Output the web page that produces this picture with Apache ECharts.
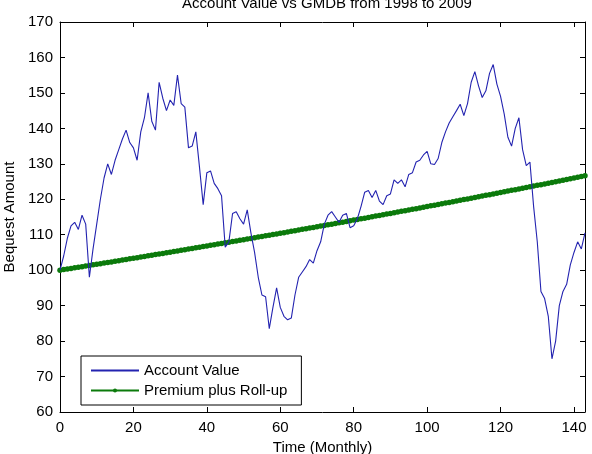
<!DOCTYPE html>
<html>
<head>
<meta charset="utf-8">
<script src="https://cdn.jsdelivr.net/npm/echarts@6/dist/echarts.min.js"></script>
<style>
html,body{margin:0;padding:0;background:#fff;}
#chart{width:592px;height:454px;}
</style>
</head>
<body>
<div id="chart"></div>
<script>
const titleText = 'Account Value vs GMDB from 1998 to 2009';
const xName = 'Time (Monthly)';
const yName = 'Bequest Amount';
const seriesNames = ['Account Value', 'Premium plus Roll-up'];

const accountValue = [
  100, 104, 109, 112.5, 113.5, 111.5, 115.5, 113, 98, 106, 113, 120,
  126, 130, 127, 131, 134, 137, 139.5, 136, 134.5, 131, 139, 143,
  150, 142, 139.5, 153, 148.5, 145, 148, 146.5, 155, 147, 146, 134.5,
  135, 139, 129, 118.5, 127.5, 128, 124.5, 123, 121, 106.5, 108, 116,
  116.5, 114.5, 113, 117, 110.5, 105, 98, 93, 92.5, 83.5, 89.5, 95,
  89.5, 87, 86, 86.5, 93, 98, 99.5, 101, 103, 102, 105.5, 108,
  113, 115.5, 116.5, 115, 113.5, 115.5, 116, 112, 112.5, 114.5, 118, 122,
  122.5, 120.5, 122.5, 119.5, 118.5, 121, 121.5, 125.5, 124.5, 125.5, 123.5, 127,
  127.5, 130.5, 131, 132.5, 133.5, 130, 129.8, 131.5, 136, 139, 141.5, 143.3,
  145, 146.8, 143.6, 147, 153, 156, 152, 148.7, 150.6, 155.5, 158, 152.5,
  149, 144, 137.5, 135, 140, 143, 134, 129.5, 130.5, 118, 108, 94,
  92, 87, 75, 80, 90, 94, 96, 101.5, 105, 108, 106, 110.5
];

const premiumRollup = [
  100.00, 100.17, 100.33, 100.50, 100.67, 100.83, 101.00, 101.17, 101.33, 101.50, 101.67, 101.83,
  102.00, 102.17, 102.34, 102.51, 102.68, 102.85, 103.02, 103.19, 103.36, 103.53, 103.70, 103.87,
  104.04, 104.21, 104.39, 104.56, 104.73, 104.91, 105.08, 105.25, 105.43, 105.60, 105.77, 105.95,
  106.12, 106.30, 106.47, 106.65, 106.83, 107.00, 107.18, 107.36, 107.54, 107.71, 107.89, 108.07,
  108.24, 108.42, 108.60, 108.78, 108.96, 109.14, 109.33, 109.51, 109.69, 109.87, 110.05, 110.23,
  110.41, 110.59, 110.78, 110.96, 111.14, 111.33, 111.51, 111.70, 111.88, 112.06, 112.25, 112.43,
  112.62, 112.80, 112.99, 113.18, 113.37, 113.55, 113.74, 113.93, 114.12, 114.31, 114.49, 114.68,
  114.87, 115.06, 115.25, 115.44, 115.63, 115.83, 116.02, 116.21, 116.40, 116.59, 116.78, 116.97,
  117.17, 117.36, 117.56, 117.75, 117.95, 118.14, 118.34, 118.53, 118.73, 118.92, 119.12, 119.31,
  119.51, 119.71, 119.91, 120.11, 120.31, 120.50, 120.70, 120.90, 121.10, 121.30, 121.50, 121.70,
  121.90, 122.10, 122.31, 122.51, 122.71, 122.92, 123.12, 123.32, 123.52, 123.73, 123.93, 124.13,
  124.34, 124.55, 124.75, 124.96, 125.17, 125.37, 125.58, 125.79, 126.00, 126.20, 126.41, 126.62
];

const xMin = 0, xMax = 143, xStep = 20;
const yMin = 60, yMax = 170, yStep = 10;

const toPairs = arr => arr.map((v, i) => [i, v]);
const FONT = 'Liberation Sans, Arial, sans-serif';
const BLUE = '#2323b0';
const GREEN = '#0b7a0b';

const chart = echarts.init(document.getElementById('chart'), null, {renderer: 'canvas'});

const baseX = {
  type: 'value', min: xMin, max: xMax, interval: xStep,
  axisLine: {show: true, onZero: false, lineStyle: {color: '#000', width: 1}},
  axisTick: {show: true, inside: true, length: 5, lineStyle: {color: '#000'}},
  splitLine: {show: false}
};
const baseY = {
  type: 'value', min: yMin, max: yMax, interval: yStep,
  axisLine: {show: true, onZero: false, lineStyle: {color: '#000', width: 1}},
  axisTick: {show: true, inside: true, length: 5, lineStyle: {color: '#000'}},
  splitLine: {show: false}
};

chart.setOption({
  animation: false,
  backgroundColor: '#fff',
  title: {
    text: titleText, left: 322, top: -9, textAlign: 'center',
    textStyle: {fontFamily: FONT, fontSize: 15, fontWeight: 'normal', color: '#000'}
  },
  grid: {left: 60, right: 7, top: 22, bottom: 42, containLabel: false, outerBoundsMode: 'none'},
  legend: {
    orient: 'vertical', left: 81, top: 356,
    itemWidth: 48, itemHeight: 5, itemGap: 5,
    padding: [7, 14, 7, 9],
    backgroundColor: '#fff', borderColor: '#000', borderWidth: 1, borderRadius: 0,
    textStyle: {fontFamily: FONT, fontSize: 15, color: '#000'},
    data: [
      {name: seriesNames[0], itemStyle: {color: 'rgba(0,0,0,0)', borderWidth: 0}},
      {name: seriesNames[1]}
    ]
  },
  xAxis: [
    Object.assign({}, baseX, {
      position: 'bottom',
      name: xName, nameLocation: 'middle', nameGap: 27,
      nameTextStyle: {fontFamily: FONT, fontSize: 15, color: '#000'},
      axisLabel: {show: true, showMaxLabel: false, margin: 8, fontFamily: FONT, fontSize: 15, color: '#000'}
    }),
    Object.assign({}, baseX, {position: 'top', axisLabel: {show: false}})
  ],
  yAxis: [
    Object.assign({}, baseY, {
      position: 'left',
      name: yName, nameLocation: 'middle', nameGap: 42,
      nameTextStyle: {fontFamily: FONT, fontSize: 15, color: '#000'},
      axisLabel: {show: true, margin: 7, fontFamily: FONT, fontSize: 15, color: '#000'}
    }),
    Object.assign({}, baseY, {position: 'right', axisLabel: {show: false}})
  ],
  series: [
    {
      name: seriesNames[0], type: 'line', xAxisIndex: 0, yAxisIndex: 0,
      data: toPairs(accountValue), symbol: 'none', z: 3,
      lineStyle: {color: BLUE, width: 1.1}, itemStyle: {color: BLUE}
    },
    {
      name: seriesNames[1], type: 'line', xAxisIndex: 0, yAxisIndex: 0,
      data: toPairs(premiumRollup), symbol: 'circle', symbolSize: 5.5, showAllSymbol: true, z: 2,
      lineStyle: {color: GREEN, width: 2}, itemStyle: {color: GREEN}
    }
  ]
});
</script>
</body>
</html>
